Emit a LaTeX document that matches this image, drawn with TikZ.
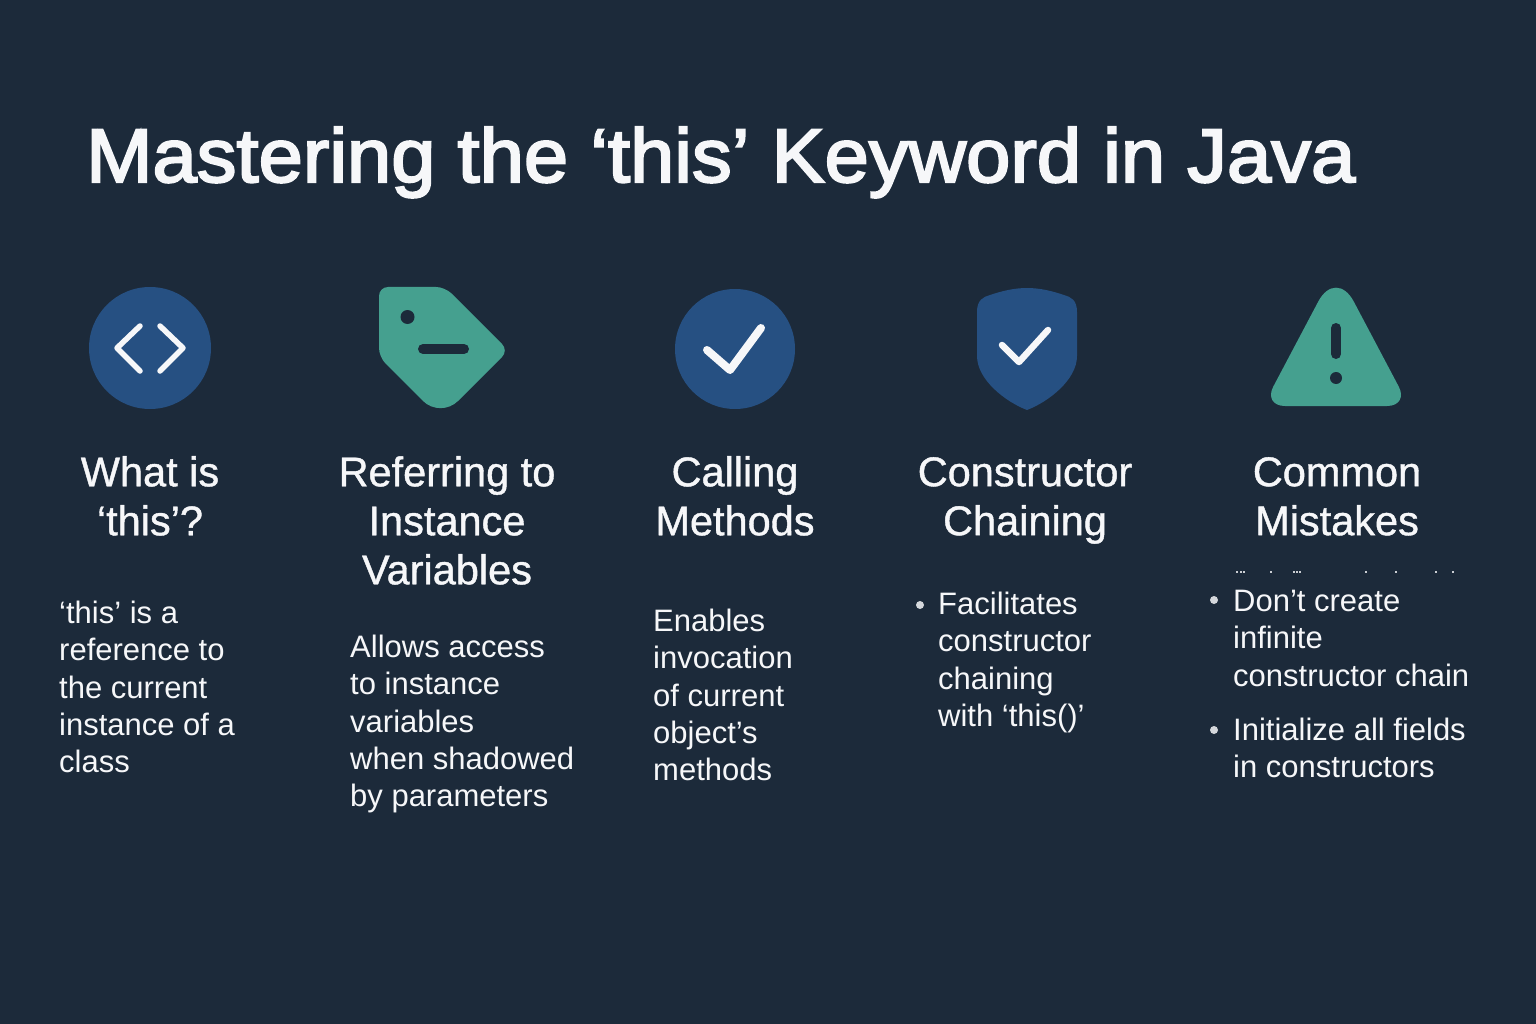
\documentclass[tikz,border=0pt]{standalone}
\usepackage{fontspec}
\setmainfont{Liberation Sans}
\newfontfamily\titlefont[FakeBold=2.8,FakeStretch=1.047]{Liberation Sans}
\newfontfamily\headfont[FakeBold=1]{Liberation Sans}
\usepackage{tikz}
\definecolor{pagebg}{HTML}{1C2A3A}
\definecolor{iconblue}{HTML}{265082}
\definecolor{iconteal}{HTML}{45A08F}
\definecolor{inkwhite}{HTML}{F6F7F9}
\tikzset{
  titlelabel/.style={anchor=base west, inner sep=0pt, text=inkwhite, font=\fontsize{76}{90}\selectfont\titlefont},
  headlabel/.style={anchor=north, inner sep=0pt, align=center, text=inkwhite, font=\fontsize{41.5}{49}\selectfont\headfont},
  bodylabel/.style={anchor=north west, inner sep=0pt, align=left, text=inkwhite, font=\fontsize{31}{37.3}\selectfont},
  bulletdot/.style={circle, inner sep=0pt, minimum size=8pt, fill=inkwhite!85!pagebg},
  icondisc/.style={circle, inner sep=0pt, fill=iconblue},
  whitemark/.style={draw=inkwhite, line cap=round, line join=round},
  holemark/.style={draw=pagebg, line cap=round}
}

\begin{document}
\begin{tikzpicture}[x=1pt, y=-1pt]
  \fill[pagebg] (0,0) rectangle (1536,1024);
  \useasboundingbox (0,0) rectangle (1536,1024);
  \node (title) [titlelabel] at (86,182) {Mastering the ‘this’ Keyword in Java};

  % icons
  \node (codedisc) [icondisc, minimum size=122pt] at (150,348) {};
  \draw[whitemark, line width=5.5pt] (140,326) -- (117,348) -- (140,371);
  \draw[whitemark, line width=5.5pt] (160,326) -- (183,348) -- (160,371);

  \fill[iconteal, rounded corners=9pt] (410,287) -- (445,287) -- (508.5,350.5)
    [rounded corners=25pt] -- (440.5,418.5) [rounded corners=9pt] -- (379,357) -- (379,287) -- cycle;
  \node (taghole) [circle, inner sep=0pt, minimum size=14pt, fill=pagebg] at (407.5,317) {};
  \draw[holemark, line width=10pt] (423,349) -- (464,349);

  \node (checkdisc) [icondisc, minimum size=120pt] at (735,349) {};
  \draw[whitemark, line width=8pt] (707,350) -- (730,370) -- (761,328);

  \fill[iconblue] (977,312) .. controls (977,300) and (983,297) .. (990,295)
    .. controls (1002,291) and (1014,288) .. (1027,288)
    .. controls (1040,288) and (1052,291) .. (1064,295)
    .. controls (1071,297) and (1077,300) .. (1077,312)
    -- (1077,356) .. controls (1077,380) and (1048,402) .. (1027,410)
    .. controls (1006,402) and (977,380) .. (977,356) -- cycle;
  \draw[whitemark, line width=6.5pt] (1002,345) -- (1019,362) -- (1048,330);

  \fill[iconteal, rounded corners=22pt] (1336,406) -- (1263,406)
    [rounded corners=38pt] -- (1336,268) [rounded corners=22pt] -- (1409,406) -- cycle;
  \draw[holemark, line width=10pt] (1336,328) -- (1336,354);
  \node (warndot) [circle, inner sep=0pt, minimum size=12pt, fill=pagebg] at (1336,378) {};

  % headings
  \node (whathead) [headlabel] at (150,456) {What is\\‘this’?};
  \node (fieldhead) [headlabel] at (447,456) {Referring to\\Instance\\Variables};
  \node (callhead) [headlabel] at (735,456) {Calling\\Methods};
  \node (chainhead) [headlabel] at (1025,457) {Constructor\\Chaining};
  \node (mistakehead) [headlabel] at (1337,457) {Common\\Mistakes};

  % text under the headings
  \node (whatbody) [bodylabel] at (59,601) {‘this’ is a\\reference to\\the current\\instance of a\\class};
  \node (fieldbody) [bodylabel] at (350,635) {Allows access\\to instance\\variables\\when shadowed\\by parameters};
  \node (callbody) [bodylabel] at (653,609) {Enables\\invocation\\of current\\object’s\\methods};
  \node (chainbody) [bodylabel] at (938,592) {Facilitates\\constructor\\chaining\\with ‘this()’};
  \node (chaindot) [bulletdot] at (920,605) {};
  \node (createbody) [bodylabel] at (1233,590) {Don’t create\\infinite\\constructor chain};
  \node (createdot) [bulletdot] at (1214,600) {};
  \node (fieldsbody) [bodylabel] at (1233,718) {Initialize all fields\\in constructors};
  \node (fieldsdot) [bulletdot] at (1214,730) {};
  % what is left of the cut off line
  \foreach \xcut in {1236,1240,1243,1270,1293,1296,1299,1365,1395,1435,1452}
    \fill[inkwhite!80!pagebg] (\xcut,571) rectangle +(1.5,2);
\end{tikzpicture}
\end{document}
